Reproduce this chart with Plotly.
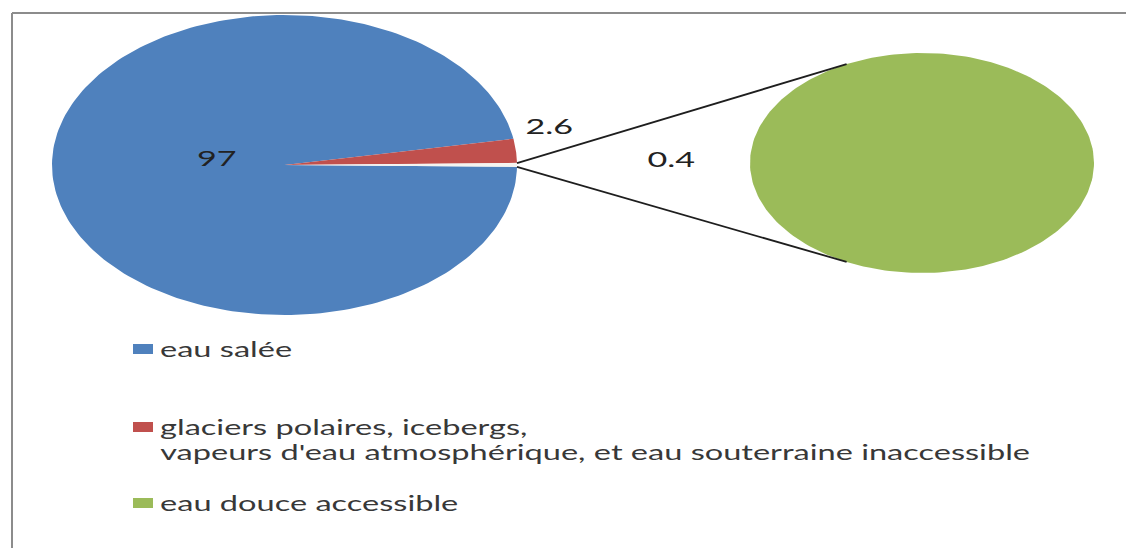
import numpy as np
import plotly.graph_objects as go

# --- data -------------------------------------------------------------
categories = [
    "eau salée",
    "glaciers polaires, icebergs, vapeurs d'eau atmosphérique, et eau souterraine inaccessible",
    "eau douce accessible",
]
legend_lines = [
    ["eau salée"],
    ["glaciers polaires, icebergs,",
     "vapeurs d'eau atmosphérique, et eau souterraine inaccessible"],
    ["eau douce accessible"],
]
values = [97, 2.6, 0.4]
colors = ["#4F81BD", "#C0504D", "#9BBB59"]

# --- geometry (page pixels, y pointing down) ---------------------------
W, H = 1126, 548
MAIN = dict(cx=284.5, cy=165, rx=232.5, ry=150)   # primary pie
SUB = dict(cx=922, cy=163, rx=172, ry=110)        # secondary pie
FONT = "Lato"
TEXT_COLOR = "#383838"
TEXT_STRETCH = 1.55   # horizontal stretch applied to all text


def point(p, a):
    t = np.radians(a)
    return p["cx"] + p["rx"] * np.cos(t), p["cy"] - p["ry"] * np.sin(t)


def wedge(p, a0, a1, n=240):
    t = np.linspace(a0, a1, n)
    xs, ys = point(p, t)
    x = np.concatenate([[p["cx"]], xs, [p["cx"]]])
    y = np.concatenate([[p["cy"]], ys, [p["cy"]]])
    return x, y


total = sum(values)
other_span = 360 * values[2] / total          # slice split off to the secondary pie
red_start = other_span / 2
red_end = red_start + 360 * values[1] / total
blue_end = 360 - other_span / 2

fig = go.Figure()

# primary pie: salt water + glaciers, plus the split-off slice
for (a0, a1), col, name in [
    ((red_end, blue_end), colors[0], categories[0]),
    ((red_start, red_end), colors[1], categories[1]),
    ((-other_span / 2, other_span / 2), "#f4f4f0", categories[2]),
]:
    x, y = wedge(MAIN, a0, a1)
    fig.add_trace(go.Scatter(x=x, y=y, mode="lines", fill="toself",
                             fillcolor=col, line=dict(width=0, color=col),
                             hoverinfo="text", text=name, showlegend=False))

# secondary pie: accessible fresh water (the whole disc)
x, y = wedge(SUB, 0, 360)
fig.add_trace(go.Scatter(x=x[1:-1], y=y[1:-1], mode="lines", fill="toself",
                         fillcolor=colors[2], line=dict(width=0, color=colors[2]),
                         hoverinfo="text", text=categories[2], showlegend=False))

# connector lines between the split slice and the secondary pie
for a_main, a_sub in [(other_span / 2, 116), (-other_span / 2, 244)]:
    x0, y0 = point(MAIN, a_main)
    x1, y1 = point(SUB, a_sub)
    fig.add_trace(go.Scatter(x=[x0, x1], y=[y0, y1], mode="lines",
                             line=dict(color="#1e1e1e", width=1.8),
                             hoverinfo="skip", showlegend=False))

# value labels
label_pos = [(217, 157), (549, 125), (671, 158)]
for v, (lx, ly) in zip(values, label_pos):
    fig.add_annotation(x=lx, y=ly, text=f"{v:g}", showarrow=False,
                       xanchor="center", yanchor="middle",
                       font=dict(family=FONT, size=22, color="#222222"))

# legend: swatches and text lines
legend_rows = [349, 427, 503]
line_gap = 25
for col, lines, yc in zip(colors, legend_lines, legend_rows):
    fig.add_shape(type="rect", x0=133, x1=153, y0=yc - 5, y1=yc + 5,
                  fillcolor=col, line=dict(width=0))
    for i, txt in enumerate(lines):
        fig.add_annotation(x=158, y=yc - 1 + i * line_gap, text=txt,
                           showarrow=False, xanchor="left", yanchor="middle",
                           font=dict(family=FONT, size=21, color=TEXT_COLOR))

# chart frame (top and left edges visible)
fig.add_shape(type="line", xref="paper", yref="paper", x0=12 / W, x1=1,
              y0=1 - 13 / H, y1=1 - 13 / H, line=dict(color="#8c8c8c", width=2))
fig.add_shape(type="line", xref="paper", yref="paper", x0=12 / W, x1=12 / W,
              y0=0, y1=1 - 13 / H, line=dict(color="#8c8c8c", width=2))

fig.update_layout(
    width=W, height=H,
    margin=dict(l=0, r=0, t=0, b=0),
    paper_bgcolor="white", plot_bgcolor="white",
    xaxis=dict(range=[0, W], visible=False, fixedrange=True),
    yaxis=dict(range=[H, 0], visible=False, fixedrange=True),
    showlegend=False,
)

# widen the lettering horizontally, keeping each text's anchor edge in place
stretch_js = """
var gd = document.getElementById('{plot_id}');
function stretchText() {
  gd.querySelectorAll('g.annotation').forEach(function (g) {
    var a = gd.layout.annotations[+g.getAttribute('data-index')];
    var t = g.querySelector('text.annotation-text');
    if (!a || !t) return;
    t.style.transformBox = 'fill-box';
    t.style.transformOrigin = a.xanchor === 'left' ? 'left center'
                            : a.xanchor === 'right' ? 'right center' : 'center center';
    t.style.transform = 'scaleX(%s)';
  });
}
stretchText();
gd.on('plotly_afterplot', stretchText);
""" % TEXT_STRETCH

fig.write_html("out.html", post_script=stretch_js)
